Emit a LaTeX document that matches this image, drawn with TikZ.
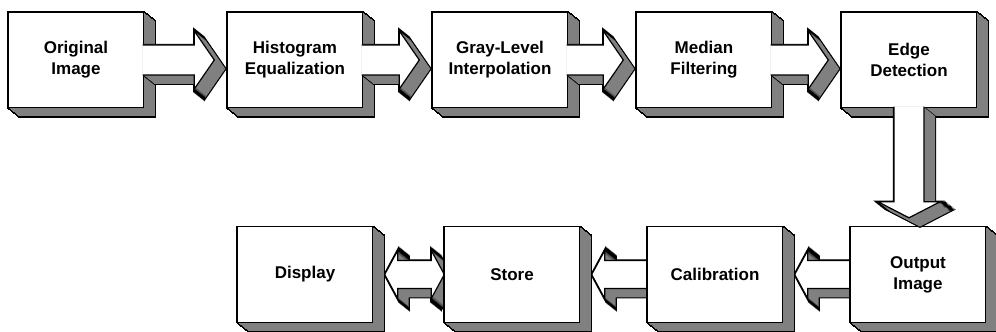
\documentclass[tikz,border=0pt]{standalone}
\usepackage{fontspec}
\setmainfont{Liberation Sans}
\usetikzlibrary{calc,backgrounds}

\definecolor{shadegray}{gray}{0.5}

\tikzset{
  stage/.style={rectangle, minimum width=135pt, minimum height=95pt, inner sep=0pt,
    align=center, font=\fontsize{17}{21}\selectfont\bfseries},
  face/.style={fill=white, line width=1.2pt},
  rim/.style={line width=2.4pt},
  side/.style={fill=shadegray}
}

% solid look: outline pass, shaded side pass, then the white front face
\newcommand{\extrude}[1]{%
  \foreach \k in {0,...,11}{
    \draw[rim, transform canvas={shift={(\k,-0.8*\k)}}] #1;
  }
  \foreach \k in {0,...,11}{
    \fill[side, transform canvas={shift={(\k,-0.8*\k)}}] #1;
  }
  \filldraw[face] #1;
}

% block arrows between stages
\newcommand{\rightflow}[2]{%
  \extrude{($(#1.east)+(-0.8,15)$) -- ($(#2.west)+(-33,15)$) -- ($(#2.west)+(-33,29)$)
    -- ($(#2.west)+(-13,0)$) -- ($(#2.west)+(-33,-29)$) -- ($(#2.west)+(-33,-15)$)
    -- ($(#1.east)+(-0.8,-15)$)}}
\newcommand{\leftflow}[2]{%
  \extrude{($(#1.west)+(2,14)$) -- ($(#2.east)+(25,14)$) -- ($(#2.east)+(25,24)$)
    -- ($(#2.east)+(12,0)$) -- ($(#2.east)+(25,-24)$) -- ($(#2.east)+(25,-14)$)
    -- ($(#1.west)+(2,-14)$) -- cycle}}
\newcommand{\bothflow}[2]{%
  \extrude{($(#1.east)+(12,0)$) -- ($(#1.east)+(25,24)$) -- ($(#1.east)+(25,14)$)
    -- ($(#2.west)+(-13,14)$) -- ($(#2.west)+(-13,24)$) -- (#2.west)
    -- ($(#2.west)+(-13,-24)$) -- ($(#2.west)+(-13,-14)$) -- ($(#1.east)+(25,-14)$)
    -- ($(#1.east)+(25,-24)$) -- cycle}}
\newcommand{\downflow}[2]{%
  \extrude{($(#1.south)+(-15,0.8)$) -- ($(#1.south |- #2.north)+(-15,25)$)
    -- ($(#1.south |- #2.north)+(-31,25)$) -- ($(#1.south |- #2.north)+(0,9)$)
    -- ($(#1.south |- #2.north)+(31,25)$) -- ($(#1.south |- #2.north)+(15,25)$)
    -- ($(#1.south)+(15,0.8)$)}}

\begin{document}
\begin{tikzpicture}[x=1pt,y=1pt]
\useasboundingbox (0,0) rectangle (996,332);

% top row
\node[stage] (orig)   at (76,272)  {Original\\Image};
\node[stage] (histeq) at (295,272) {Histogram\\Equalization};
\node[stage] (interp) at (500,272) {Gray-Level\\Interpolation};
\node[stage] (median) at (704,272) {Median\\Filtering};
\node[stage] (edges)  at (909,272) {Edge\\Detection};
% bottom row
\node[stage] (display) at (305,57.5) {Display};
\node[stage] (store)   at (512,57.5) {Store};
\node[stage] (calib)   at (715,57.5) {Calibration};
\node[stage] (output)  at (918,57.5) {Output\\Image};

\begin{scope}[on background layer]
  \fill[white] (0,0) rectangle (996,332);
  \leftflow{output}{calib}
  \leftflow{calib}{store}
  \bothflow{display}{store}
  \foreach \n in {orig,histeq,interp,median,edges,display,store,calib,output}{
    \extrude{(\n.north west) rectangle (\n.south east)}
  }
  \rightflow{orig}{histeq}
  \rightflow{histeq}{interp}
  \rightflow{interp}{median}
  \rightflow{median}{edges}
  \downflow{edges}{output}
\end{scope}
\end{tikzpicture}
\end{document}
